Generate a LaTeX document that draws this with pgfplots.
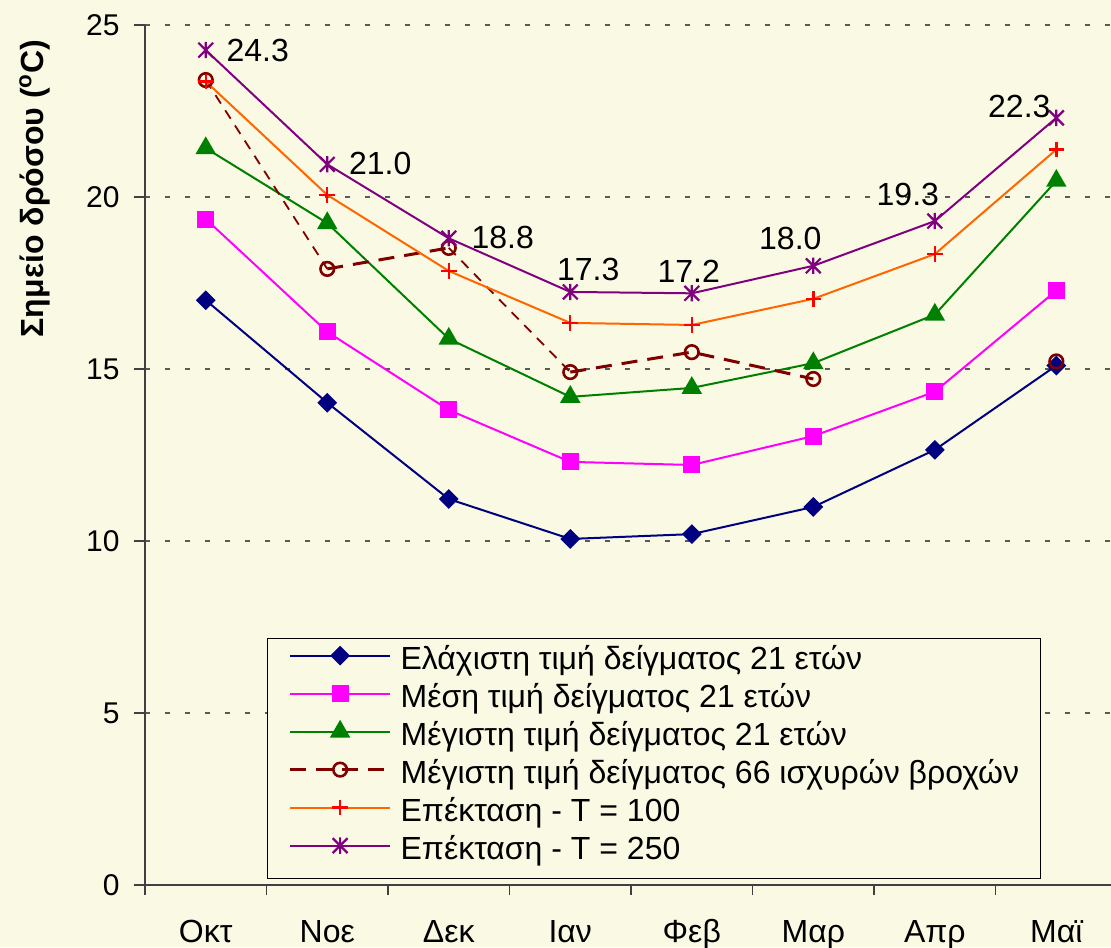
\documentclass[border=0pt]{standalone}
\usepackage{fontspec}
\setmainfont{Liberation Sans}
\usepackage{pgfplots}
\usepackage{pgfplotstable}
\pgfplotsset{compat=1.18}

\definecolor{bgcream}{RGB}{250,250,228}
\definecolor{axisgray}{RGB}{64,64,64}
\definecolor{gridgray}{RGB}{90,90,90}
\definecolor{cmin}{RGB}{0,0,128}
\definecolor{cmean}{RGB}{255,0,255}
\definecolor{cmax}{RGB}{0,128,0}
\definecolor{cheavy}{RGB}{128,0,0}
\definecolor{corange}{RGB}{255,102,0}
\definecolor{cred}{RGB}{255,0,0}
\definecolor{cpurple}{RGB}{128,0,128}

% Excel-like star marker: an X with a vertical bar
\pgfdeclareplotmark{xstar}{%
  \pgfpathmoveto{\pgfqpoint{-\pgfplotmarksize}{-\pgfplotmarksize}}%
  \pgfpathlineto{\pgfqpoint{\pgfplotmarksize}{\pgfplotmarksize}}%
  \pgfpathmoveto{\pgfqpoint{-\pgfplotmarksize}{\pgfplotmarksize}}%
  \pgfpathlineto{\pgfqpoint{\pgfplotmarksize}{-\pgfplotmarksize}}%
  \pgfpathmoveto{\pgfqpoint{0pt}{-1.1\pgfplotmarksize}}%
  \pgfpathlineto{\pgfqpoint{0pt}{1.1\pgfplotmarksize}}%
  \pgfusepathqstroke}

% Επέκταση T = 250 with its labels (offsets of the labels in pt)
\pgfplotstableread{
x y lab dx dy
0 24.27 24.3 26 0
1 20.95 21.0 26.5 0.5
2 18.80 18.8 27 0.5
3 17.24 17.3 9 11
4 17.20 17.2 -1.5 11
5 18.00 18.0 -11.5 13.5
6 19.30 19.3 -13.5 13.5
7 22.30 22.3 -18.5 5.5
}\tfifty

\begin{document}
\begin{tikzpicture}
\fill[bgcream] (-72.5pt,-31pt) rectangle (483pt,442.5pt);
\begin{axis}[
    scale only axis,
    width=483pt, height=430pt,
    xmin=-0.5, xmax=7.45, ymin=0, ymax=25,
    clip=false,
    axis x line*=bottom, axis y line*=left,
    axis line style={draw=axisgray, line width=0.9pt},
    xtick={0,...,7},
    xticklabels={Οκτ,Νοε,Δεκ,Ιαν,Φεβ,Μαρ,Απρ,Μαϊ},
    minor xtick={-0.5,0.5,...,6.5},
    ytick={0,5,...,25},
    tick align=outside,
    major tick length=5.5pt, minor tick length=5pt,
    tick style={draw=axisgray, line width=0.9pt},
    major x tick style={draw=none},
    ymajorgrids,
    major grid style={draw=gridgray, line width=0.6pt, dash pattern=on 2.5pt off 7.5pt},
    /pgf/number format/assume math mode=true,
    yticklabel style={font=\fontsize{15}{18}\selectfont, inner sep=0pt, anchor=east, xshift=-7pt},
    xticklabel style={font=\fontsize{16}{19}\selectfont, inner sep=0pt, anchor=base, yshift=-23pt},
    every axis y label/.style={at={(axis description cs:-0.1139,0.81)}, rotate=90, anchor=center,
        font=\fontsize{16}{19}\selectfont\bfseries},
    ylabel={Σημείο δρόσου (\textsuperscript{o}C)},
    legend style={at={(axis description cs:0.1263,0.2872)}, anchor=north west,
        draw=black, line width=0.6pt, fill=bgcream,
        font=\fontsize{16}{19}\selectfont,
        inner xsep=10.5pt, inner ysep=3pt, row sep=0pt, column sep=4.5pt,
        nodes={inner sep=0pt, text height=12.2pt, text depth=6.8pt}},
    legend cell align=left,
    legend image code/.code={
        \draw[mark repeat=2, mark phase=2, #1] plot coordinates {(0pt,4pt) (25pt,4pt) (50pt,4pt)};
    },
]
\addplot[cmin, line width=1pt, mark=square*, mark size=3pt, mark options={solid, rotate=45}]
    coordinates {(0,17.0) (1,14.02) (2,11.22) (3,10.06) (4,10.2) (5,10.99) (6,12.65) (7,15.1)};
\addlegendentry{Ελάχιστη τιμή δείγματος 21 ετών}

\addplot[cmean, line width=1pt, mark=square*, mark size=3.75pt, mark options={solid}]
    coordinates {(0,19.36) (1,16.08) (2,13.81) (3,12.3) (4,12.21) (5,13.05) (6,14.34) (7,17.28)};
\addlegendentry{Μέση τιμή δείγματος 21 ετών}

\addplot[cmax, line width=1pt, mark=triangle*, mark size=4.9pt, mark options={solid}]
    coordinates {(0,21.42) (1,19.24) (2,15.88) (3,14.19) (4,14.45) (5,15.17) (6,16.58) (7,20.47)};
\addlegendentry{Μέγιστη τιμή δείγματος 21 ετών}

% thin dashed segments of the 66-storm series
\addplot[cheavy, line width=0.9pt, dash pattern=on 5pt off 4pt, no marks, forget plot]
    coordinates {(0,23.4) (1,17.91)};
\addplot[cheavy, line width=0.9pt, dash pattern=on 5pt off 4pt, no marks, forget plot]
    coordinates {(2,18.52) (3,14.91)};
\addplot[cheavy, only marks, mark=o, mark size=3.4pt, forget plot,
    mark options={solid, fill=white, line width=1.3pt}]
    coordinates {(0,23.4)};
\addplot[cheavy, line width=1.5pt, dash pattern=on 8pt off 5pt, unbounded coords=jump,
    mark=o, mark size=3.4pt, mark options={solid, fill=white, line width=1.3pt}]
    coordinates {(1,17.91) (2,18.52) (2.5,nan) (3,14.91) (4,15.49) (5,14.71) (6,nan) (7,15.22)};
\addlegendentry{Μέγιστη τιμή δείγματος 66 ισχυρών βροχών}

\addplot[corange, line width=1pt, mark=+, mark size=3.9pt, mark options={solid, draw=cred, line width=1.2pt}]
    coordinates {(0,23.36) (1,20.06) (2,17.85) (3,16.34) (4,16.28) (5,17.04) (6,18.34) (7,21.38)};
\addlegendentry{Επέκταση - Τ = 100}

\addplot[cpurple, line width=1pt, mark=xstar, mark size=3.7pt, mark options={solid, line width=1.1pt},
    nodes near coords, point meta=explicit symbolic,
    visualization depends on={\thisrow{dx}\as\ldx},
    visualization depends on={\thisrow{dy}\as\ldy},
    every node near coord/.append style={anchor=center, inner sep=0pt, text=black,
        font=\fontsize{16}{19}\selectfont, xshift=\ldx pt, yshift=\ldy pt}]
    table[x=x, y=y, meta=lab] {\tfifty};
\addlegendentry{Επέκταση - Τ = 250}
\end{axis}
\pgfresetboundingbox
\useasboundingbox (-72.5pt,-31pt) rectangle (483pt,442.5pt);
\end{tikzpicture}
\end{document}
